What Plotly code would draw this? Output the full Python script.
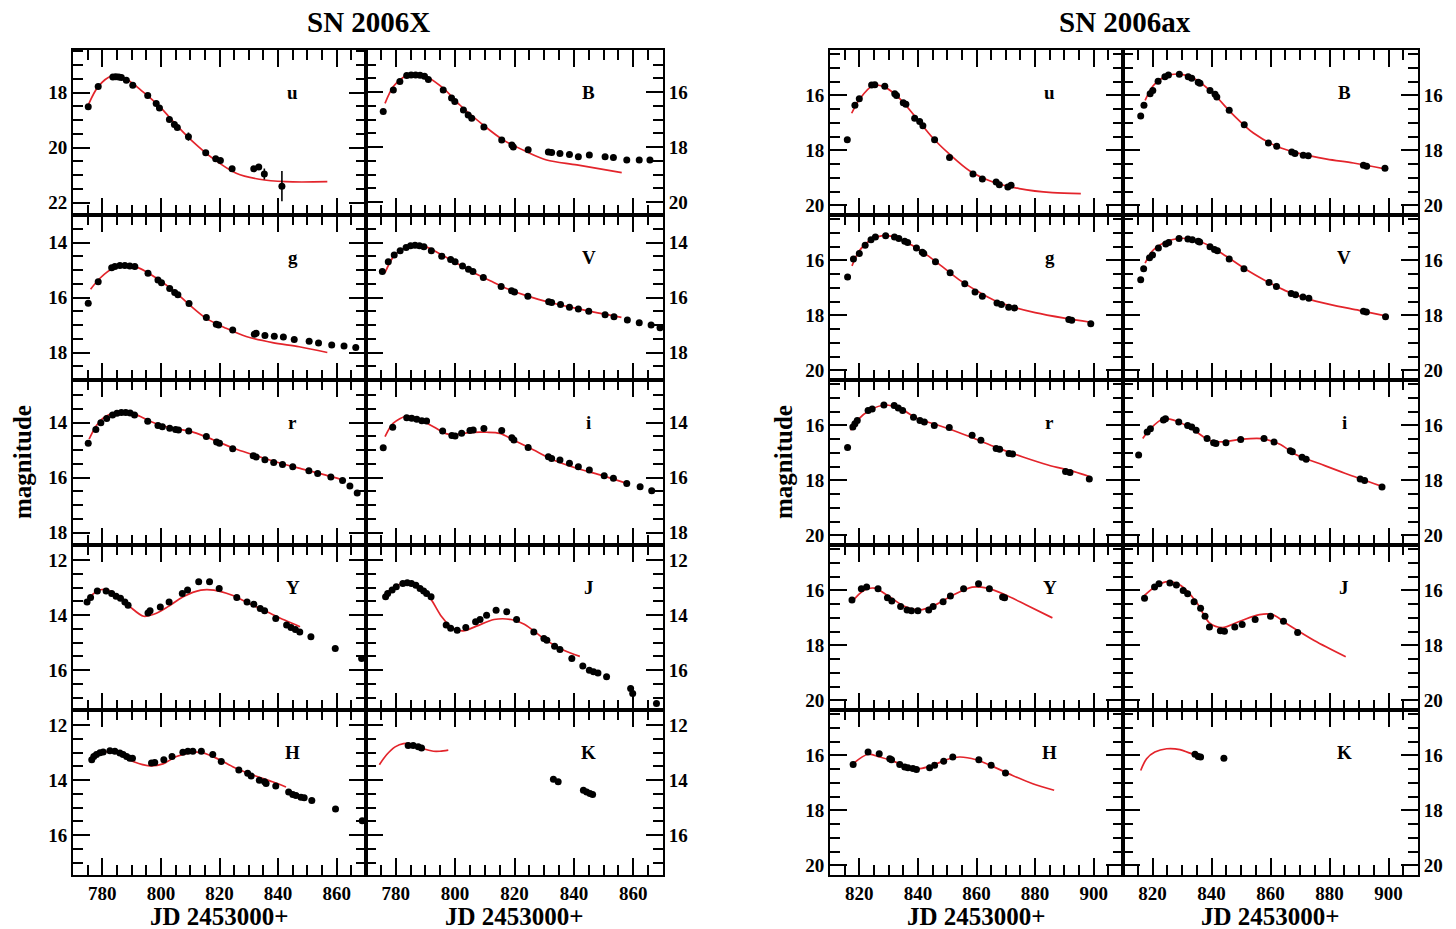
import plotly.graph_objects as go

# ------------------------------------------------------------------
# SN 2006X photometry (JD - 2453000) and template fits
# ------------------------------------------------------------------
X_u_t = [775.2, 778.6, 783.6, 784.6, 785.6, 786.5, 788.2, 790.4, 795.5, 798.4, 799.5, 802.9,
         804.6, 805.6, 809.4, 815.3, 818.7, 820.3, 824.3, 831.7, 833.4, 835.3, 841.3]
X_u_m = [18.51, 17.78, 17.43, 17.42, 17.43, 17.45, 17.55, 17.73, 18.10, 18.40, 18.56, 18.98,
         19.16, 19.27, 19.60, 20.19, 20.40, 20.47, 20.77, 20.77, 20.70, 20.96, 21.40]
X_u_e = [0.05, 0.04, 0.03, 0.03, 0.03, 0.03, 0.03, 0.04, 0.05, 0.05, 0.05, 0.06,
         0.06, 0.06, 0.15, 0.07, 0.08, 0.08, 0.10, 0.08, 0.08, 0.20, 0.55]
X_u_fit_t = [775.2, 778.6, 783.2, 788.3, 793.9, 799.6, 805.3, 810.9, 817.7, 825.7, 833.6, 842.7, 856.8]
X_u_fit_m = [18.45, 17.78, 17.40, 17.52, 17.97, 18.51, 19.18, 19.78, 20.39, 20.93, 21.15, 21.24, 21.24]

X_B_t = [775.8, 779.2, 781.4, 783.7, 785.2, 786.7, 788.2, 789.7, 791.0, 796.0, 798.8, 799.9,
         802.8, 804.4, 805.6, 809.7, 815.7, 819.1, 819.6, 824.6, 831.4, 832.5, 835.3, 838.5,
         841.5, 845.2, 850.5, 853.3, 857.8, 862.0, 865.6]
X_B_m = [16.71, 15.92, 15.62, 15.40, 15.38, 15.38, 15.39, 15.42, 15.54, 15.92, 16.22, 16.34,
         16.65, 16.83, 16.95, 17.27, 17.74, 17.92, 18.00, 18.10, 18.18, 18.20, 18.23, 18.27,
         18.35, 18.29, 18.35, 18.38, 18.47, 18.47, 18.47]
X_B_fit_t = [776.4, 779.2, 782.6, 785.9, 790.4, 796.0, 801.6, 809.5, 816.2, 824.1, 830.8, 841.0, 856.1]
X_B_fit_m = [16.41, 15.80, 15.46, 15.32, 15.44, 15.86, 16.47, 17.20, 17.74, 18.17, 18.47, 18.65, 18.93]

X_g_t = [775.2, 778.6, 783.2, 784.3, 786.0, 787.7, 789.4, 791.1, 795.6, 799.0, 800.2, 803.0,
         804.7, 805.8, 809.6, 815.5, 818.9, 819.7, 824.5, 831.9, 832.5, 835.5, 838.7, 841.8,
         845.5, 850.6, 853.8, 858.3, 862.5, 866.5]
X_g_m = [16.21, 15.43, 14.92, 14.87, 14.84, 14.84, 14.85, 14.87, 15.12, 15.36, 15.46, 15.67,
         15.82, 15.90, 16.22, 16.73, 16.97, 17.00, 17.18, 17.34, 17.30, 17.38, 17.41, 17.44,
         17.53, 17.59, 17.65, 17.73, 17.76, 17.82]
X_g_fit_t = [776.0, 779.2, 783.7, 788.3, 792.8, 798.5, 804.1, 809.8, 815.5, 822.3, 829.1, 838.1, 847.2, 856.8]
X_g_fit_m = [15.70, 15.30, 14.94, 14.82, 14.94, 15.30, 15.73, 16.27, 16.76, 17.12, 17.42, 17.64, 17.79, 18.00]

X_V_t = [775.5, 777.5, 779.5, 781.5, 783.5, 785.0, 786.5, 788.0, 789.5, 792.0, 795.5, 798.5,
         800.0, 802.5, 804.5, 806.0, 809.5, 815.5, 819.0, 820.0, 824.5, 831.5, 832.5, 835.5,
         838.5, 841.5, 845.0, 850.5, 853.5, 858.0, 862.0, 866.0, 869.0]
X_V_m = [15.05, 14.70, 14.45, 14.30, 14.18, 14.12, 14.10, 14.12, 14.15, 14.30, 14.50, 14.62,
         14.70, 14.85, 14.97, 15.05, 15.27, 15.60, 15.75, 15.80, 15.95, 16.15, 16.18, 16.25,
         16.35, 16.42, 16.50, 16.63, 16.70, 16.82, 16.92, 17.00, 17.10]
X_V_fit_t = [776.4, 779.0, 782.0, 786.0, 790.0, 795.0, 800.0, 806.0, 812.0, 818.0, 825.0, 832.0, 840.0, 848.0, 856.0]
X_V_fit_m = [15.10, 14.55, 14.25, 14.10, 14.15, 14.42, 14.72, 15.08, 15.40, 15.70, 15.97, 16.18, 16.38, 16.56, 16.72]

X_r_t = [775.2, 777.8, 779.5, 781.5, 783.5, 785.0, 786.5, 788.0, 789.5, 791.0, 795.5, 799.0,
         800.5, 803.0, 805.0, 806.0, 809.5, 815.5, 819.0, 820.0, 824.5, 831.5, 832.5, 835.5,
         838.5, 841.5, 845.0, 850.5, 853.5, 858.0, 862.0, 864.5, 867.0]
X_r_m = [14.75, 14.25, 14.00, 13.85, 13.72, 13.66, 13.63, 13.63, 13.65, 13.72, 13.95, 14.10,
         14.15, 14.20, 14.25, 14.27, 14.30, 14.50, 14.70, 14.75, 14.95, 15.20, 15.25, 15.35,
         15.45, 15.52, 15.60, 15.75, 15.85, 15.98, 16.10, 16.30, 16.56]
X_r_fit_t = [775.5, 778.0, 781.0, 785.0, 789.0, 793.0, 798.0, 804.0, 810.0, 815.0, 820.0, 826.0, 833.0, 840.0, 848.0, 856.0, 862.0]
X_r_fit_m = [14.60, 14.10, 13.78, 13.62, 13.60, 13.78, 14.02, 14.20, 14.32, 14.50, 14.72, 14.98, 15.22, 15.45, 15.68, 15.90, 16.08]

X_i_t = [775.8, 779.0, 783.7, 785.4, 787.1, 788.8, 790.4, 795.8, 798.9, 800.0, 802.2, 805.0,
         806.1, 809.7, 815.7, 819.1, 819.8, 824.6, 831.4, 832.5, 835.3, 838.5, 841.5, 845.2,
         850.2, 853.3, 857.8, 862.3, 866.2]
X_i_m = [14.91, 14.17, 13.82, 13.84, 13.88, 13.93, 13.94, 14.30, 14.47, 14.49, 14.39, 14.29,
         14.27, 14.21, 14.29, 14.55, 14.63, 14.90, 15.24, 15.30, 15.36, 15.48, 15.60, 15.72,
         15.93, 16.02, 16.21, 16.33, 16.48]
X_i_fit_t = [776.4, 779.2, 783.7, 787.1, 792.7, 797.2, 800.0, 803.9, 810.6, 815.1, 819.6, 826.3, 833.1, 840.9, 848.8, 857.8]
X_i_fit_m = [14.51, 14.02, 13.76, 13.84, 14.15, 14.41, 14.45, 14.37, 14.35, 14.39, 14.63, 14.99, 15.36, 15.66, 15.90, 16.21]

X_Y_t = [774.8, 776.0, 778.3, 781.3, 783.2, 784.7, 786.2, 787.7, 788.8, 795.6, 796.3, 799.8,
         802.8, 807.3, 809.1, 812.9, 816.6, 819.9, 825.9, 829.4, 831.7, 833.9, 835.4, 839.2,
         842.9, 844.4, 845.9, 847.4, 851.2, 859.5, 868.5]
X_Y_m = [13.52, 13.36, 13.12, 13.12, 13.21, 13.31, 13.39, 13.52, 13.64, 13.92, 13.84, 13.70,
         13.52, 13.21, 13.09, 12.79, 12.79, 13.03, 13.36, 13.52, 13.60, 13.76, 13.84, 14.12,
         14.36, 14.45, 14.52, 14.61, 14.79, 15.21, 15.58]
X_Y_fit_t = [774.8, 778.3, 781.3, 785.0, 789.5, 794.1, 797.8, 802.3, 807.6, 813.6, 818.1, 824.1, 830.2, 836.2, 842.2, 847.5]
X_Y_fit_m = [13.45, 13.12, 13.07, 13.27, 13.70, 14.04, 13.96, 13.70, 13.33, 13.09, 13.09, 13.27, 13.58, 13.88, 14.18, 14.42]

X_J_t = [776.6, 777.3, 778.8, 780.2, 782.4, 783.9, 785.3, 786.8, 788.2, 789.4, 790.4, 791.9,
         797.0, 798.5, 800.7, 803.6, 806.9, 808.4, 810.6, 813.8, 817.4, 820.7, 826.5, 829.9,
         830.9, 833.5, 835.3, 839.3, 843.0, 845.2, 846.6, 848.1, 851.0, 859.1, 859.8, 867.8]
X_J_m = [13.33, 13.21, 13.09, 12.97, 12.85, 12.82, 12.85, 12.91, 13.03, 13.12, 13.21, 13.33,
         14.36, 14.48, 14.55, 14.45, 14.24, 14.16, 14.00, 13.82, 13.88, 14.16, 14.61, 14.85,
         14.91, 15.13, 15.25, 15.58, 15.85, 16.00, 16.06, 16.10, 16.24, 16.67, 16.85, 17.21]
X_J_fit_t = [775.8, 779.5, 783.1, 786.8, 791.2, 795.5, 799.2, 802.8, 807.2, 813.1, 818.9, 823.3, 830.6, 836.4, 842.0]
X_J_fit_m = [13.33, 12.97, 12.85, 12.97, 13.33, 14.06, 14.48, 14.57, 14.40, 14.16, 14.16, 14.33, 14.91, 15.27, 15.50]

X_H_t = [776.4, 777.1, 778.0, 779.2, 780.3, 782.6, 784.3, 786.0, 787.1, 788.3, 789.4, 790.3,
         796.8, 797.9, 801.0, 803.8, 807.5, 809.2, 810.9, 813.8, 817.7, 820.6, 826.6, 829.6,
         830.8, 833.6, 835.4, 835.9, 839.2, 843.6, 845.0, 846.1, 847.8, 848.9, 851.5, 859.6, 868.7]
X_H_m = [13.26, 13.14, 13.07, 13.00, 12.98, 12.93, 12.95, 13.01, 13.07, 13.14, 13.20, 13.20,
         13.38, 13.36, 13.26, 13.14, 12.99, 12.95, 12.95, 12.95, 13.07, 13.32, 13.63, 13.75,
         13.85, 14.00, 14.06, 14.12, 14.21, 14.43, 14.52, 14.56, 14.62, 14.64, 14.74, 15.05, 15.48]
X_H_fit_t = [775.8, 779.2, 782.6, 786.0, 790.5, 796.2, 800.7, 805.3, 810.9, 814.3, 818.9, 824.5, 831.3, 838.1, 842.7]
X_H_fit_m = [13.32, 13.07, 12.95, 13.07, 13.32, 13.48, 13.41, 13.14, 12.99, 13.01, 13.20, 13.51, 13.81, 14.06, 14.25]

X_K_t = [784.2, 785.9, 787.6, 788.7, 833.1, 834.7, 843.2, 844.3, 845.4, 846.3]
X_K_m = [12.74, 12.74, 12.79, 12.83, 13.97, 14.06, 14.37, 14.43, 14.49, 14.52]
X_K_fit_t = [774.5, 777.0, 779.8, 782.6, 785.9, 789.3, 792.7, 794.9, 797.7]
X_K_fit_m = [13.44, 13.07, 12.79, 12.67, 12.70, 12.86, 12.95, 12.95, 12.91]

# ------------------------------------------------------------------
# SN 2006ax photometry (JD - 2453000) and template fits
# ------------------------------------------------------------------
A_u_t = [815.9, 818.5, 820.0, 824.2, 825.3, 828.7, 832.1, 832.7, 835.0, 835.9, 838.9, 840.6,
         841.7, 845.7, 850.8, 858.8, 862.0, 866.7, 867.8, 870.7, 871.8]
A_u_m = [17.61, 16.36, 16.12, 15.62, 15.61, 15.67, 15.94, 16.00, 16.27, 16.32, 16.83, 16.95,
         17.10, 17.61, 18.26, 18.86, 19.04, 19.15, 19.25, 19.33, 19.27]
A_u_fit_t = [817.4, 820.2, 824.7, 828.7, 833.8, 839.5, 845.1, 850.8, 857.6, 865.6, 874.6, 885.9, 895.6]
A_u_fit_m = [16.65, 16.12, 15.64, 15.70, 16.12, 16.83, 17.55, 18.14, 18.74, 19.15, 19.39, 19.54, 19.57]

A_B_t = [816.0, 817.1, 819.2, 820.1, 821.9, 824.2, 825.4, 829.1, 832.1, 833.3, 835.5, 836.1,
         839.5, 841.2, 841.8, 846.0, 851.1, 859.3, 862.1, 867.2, 868.3, 871.1, 872.8, 891.5,
         892.6, 898.8]
A_B_m = [16.75, 16.36, 15.94, 15.82, 15.49, 15.32, 15.26, 15.23, 15.32, 15.38, 15.52, 15.56,
         15.82, 15.96, 16.06, 16.54, 17.07, 17.73, 17.85, 18.06, 18.11, 18.18, 18.20, 18.54,
         18.58, 18.65]
A_B_fit_t = [817.5, 820.3, 824.8, 829.3, 835.0, 840.6, 847.4, 854.2, 862.1, 870.0, 879.1, 888.1, 899.2]
A_B_fit_m = [16.18, 15.64, 15.29, 15.23, 15.44, 15.94, 16.71, 17.37, 17.85, 18.12, 18.32, 18.46, 18.68]

A_g_t = [816.0, 818.0, 820.0, 822.0, 824.0, 825.5, 829.0, 832.0, 833.5, 835.5, 836.5, 839.5,
         841.5, 842.0, 846.0, 851.0, 856.0, 859.5, 862.0, 867.0, 868.5, 871.0, 873.0, 891.5,
         892.5, 899.0]
A_g_m = [16.60, 15.95, 15.75, 15.45, 15.25, 15.15, 15.10, 15.15, 15.20, 15.30, 15.35, 15.55,
         15.70, 15.75, 16.05, 16.45, 16.85, 17.15, 17.30, 17.55, 17.60, 17.70, 17.73, 18.15,
         18.18, 18.30]
A_g_fit_t = [817.5, 820.0, 824.0, 828.0, 833.0, 838.0, 843.0, 848.0, 854.0, 860.0, 866.0, 872.0, 880.0, 890.0, 899.0]
A_g_fit_m = [16.20, 15.65, 15.25, 15.10, 15.18, 15.45, 15.80, 16.20, 16.70, 17.10, 17.45, 17.68, 17.90, 18.10, 18.25]

A_V_t = [816.0, 817.0, 819.0, 820.0, 822.0, 824.5, 825.5, 829.0, 832.0, 833.5, 835.5, 836.0,
         839.5, 841.0, 842.0, 846.0, 851.0, 859.5, 862.0, 867.0, 868.5, 871.0, 873.0, 891.5,
         892.5, 899.0]
A_V_m = [16.70, 16.30, 15.90, 15.80, 15.55, 15.40, 15.35, 15.20, 15.22, 15.25, 15.30, 15.33,
         15.50, 15.60, 15.65, 15.95, 16.30, 16.80, 16.95, 17.20, 17.25, 17.33, 17.38, 17.85,
         17.88, 18.05]
A_V_fit_t = [817.5, 820.0, 824.0, 829.0, 834.0, 839.0, 845.0, 852.0, 858.0, 865.0, 872.0, 880.0, 890.0, 899.0]
A_V_fit_m = [16.10, 15.65, 15.35, 15.20, 15.25, 15.45, 15.85, 16.35, 16.72, 17.10, 17.38, 17.60, 17.82, 18.02]

A_r_t = [816.0, 817.8, 818.5, 819.3, 823.0, 824.4, 828.4, 831.9, 833.3, 834.8, 838.5, 840.7,
         842.2, 845.6, 850.7, 858.5, 861.5, 866.7, 867.9, 871.1, 872.3, 890.4, 891.9, 898.5]
A_r_m = [16.80, 16.06, 15.94, 15.82, 15.46, 15.40, 15.26, 15.28, 15.37, 15.46, 15.70, 15.82,
         15.88, 16.00, 16.08, 16.36, 16.54, 16.84, 16.87, 17.02, 17.04, 17.68, 17.71, 17.95]
A_r_fit_t = [817.0, 819.3, 823.7, 828.9, 834.1, 840.0, 845.9, 851.9, 859.3, 866.7, 875.6, 884.4, 893.3, 898.5]
A_r_fit_m = [16.18, 15.82, 15.44, 15.26, 15.40, 15.76, 15.96, 16.18, 16.48, 16.80, 17.14, 17.44, 17.68, 17.86]

A_i_t = [815.3, 818.2, 819.3, 823.7, 824.4, 828.9, 831.9, 833.3, 834.8, 838.5, 840.7, 841.5,
         844.9, 849.9, 857.8, 861.2, 866.7, 867.4, 870.7, 872.1, 890.4, 891.9, 897.8]
A_i_m = [17.08, 16.24, 16.12, 15.80, 15.76, 15.88, 16.00, 16.06, 16.18, 16.48, 16.63, 16.66,
         16.63, 16.51, 16.48, 16.60, 16.92, 16.96, 17.16, 17.23, 17.95, 18.00, 18.24]
A_i_fit_t = [816.7, 819.3, 823.7, 828.1, 833.3, 839.3, 843.7, 849.6, 857.0, 863.0, 868.9, 876.3, 885.2, 897.8]
A_i_fit_m = [16.48, 16.12, 15.76, 15.84, 16.12, 16.54, 16.60, 16.51, 16.48, 16.68, 17.08, 17.38, 17.74, 18.22]

A_Y_t = [817.5, 820.7, 822.5, 826.4, 829.6, 831.1, 834.1, 836.3, 837.8, 840.0, 843.7, 845.2,
         848.6, 851.1, 855.6, 860.7, 864.4, 868.9, 869.6]
A_Y_m = [16.35, 15.94, 15.88, 15.94, 16.27, 16.39, 16.59, 16.71, 16.74, 16.74, 16.71, 16.59,
         16.41, 16.20, 15.94, 15.76, 15.94, 16.24, 16.27]
A_Y_fit_t = [817.5, 821.5, 825.2, 829.6, 835.6, 840.7, 845.9, 851.9, 858.5, 863.7, 869.6, 877.0, 885.9]
A_Y_fit_m = [16.41, 16.00, 15.92, 16.18, 16.59, 16.71, 16.53, 16.18, 15.88, 15.92, 16.15, 16.53, 17.00]

A_J_t = [817.3, 820.7, 822.2, 825.9, 828.1, 830.4, 831.9, 834.1, 836.3, 837.8, 839.3, 843.0,
         844.4, 847.9, 850.4, 854.8, 860.0, 864.4, 869.2]
A_J_m = [16.29, 15.88, 15.76, 15.73, 15.80, 16.00, 16.12, 16.41, 16.65, 16.94, 17.33, 17.47,
         17.49, 17.33, 17.24, 17.06, 16.94, 17.12, 17.53]
A_J_fit_t = [817.3, 821.5, 825.2, 829.6, 834.8, 839.3, 843.7, 849.6, 856.3, 860.7, 865.9, 874.8, 885.5]
A_J_fit_m = [16.18, 15.82, 15.68, 15.82, 16.41, 17.18, 17.35, 17.12, 16.88, 16.88, 17.24, 17.82, 18.41]

A_H_t = [817.9, 823.0, 826.8, 830.4, 831.0, 833.8, 835.5, 836.6, 838.3, 839.5, 844.0, 845.7,
         848.8, 851.9, 860.8, 865.0, 869.9]
A_H_m = [16.33, 15.88, 15.94, 16.12, 16.16, 16.33, 16.42, 16.45, 16.48, 16.51, 16.45, 16.36,
         16.21, 16.06, 16.16, 16.36, 16.64]
A_H_fit_t = [817.9, 823.0, 827.0, 831.5, 836.1, 840.6, 845.1, 849.7, 854.2, 859.9, 865.5, 872.3, 879.2, 886.5]
A_H_fit_m = [16.30, 15.96, 16.06, 16.21, 16.40, 16.48, 16.36, 16.16, 16.06, 16.16, 16.40, 16.73, 17.03, 17.27]

A_K_t = [834.4, 835.5, 836.3, 844.2]
A_K_m = [15.96, 16.04, 16.06, 16.10]
A_K_fit_t = [816.0, 818.0, 820.8, 824.8, 829.3, 832.7, 835.5]
A_K_fit_m = [16.55, 16.12, 15.88, 15.76, 15.79, 15.92, 16.00]

# Vertical (magnitude) window of every panel, [faint, bright]
X_YLIM = {"u": [22.45, 16.45], "B": [20.47, 14.47], "g": [19.0, 13.0], "V": [19.0, 13.0],
          "r": [18.45, 12.45], "i": [18.45, 12.45], "Y": [17.45, 11.45], "J": [17.45, 11.45],
          "H": [17.45, 11.45], "K": [17.45, 11.45]}
A_YLIM = [20.35, 14.35]
X_XLIM = [770, 870]
A_XLIM = [810, 910]

# ------------------------------------------------------------------
# Layout geometry (pixels in a 1456 x 929 page)
# ------------------------------------------------------------------
W, H = 1456, 929
COLS = [(73, 366), (366, 663), (830, 1123), (1123, 1418)]
ROW_TOP, ROW_H = 50, 165
BAND_LAYOUT = [("u", "B"), ("g", "V"), ("r", "i"), ("Y", "J"), ("H", "K")]

SERIF = "Liberation Serif"
FIT_COLOR = "#e3242b"

X_DATA = {
    "u": (X_u_t, X_u_m, X_u_fit_t, X_u_fit_m), "B": (X_B_t, X_B_m, X_B_fit_t, X_B_fit_m),
    "g": (X_g_t, X_g_m, X_g_fit_t, X_g_fit_m), "V": (X_V_t, X_V_m, X_V_fit_t, X_V_fit_m),
    "r": (X_r_t, X_r_m, X_r_fit_t, X_r_fit_m), "i": (X_i_t, X_i_m, X_i_fit_t, X_i_fit_m),
    "Y": (X_Y_t, X_Y_m, X_Y_fit_t, X_Y_fit_m), "J": (X_J_t, X_J_m, X_J_fit_t, X_J_fit_m),
    "H": (X_H_t, X_H_m, X_H_fit_t, X_H_fit_m), "K": (X_K_t, X_K_m, X_K_fit_t, X_K_fit_m),
}
A_DATA = {
    "u": (A_u_t, A_u_m, A_u_fit_t, A_u_fit_m), "B": (A_B_t, A_B_m, A_B_fit_t, A_B_fit_m),
    "g": (A_g_t, A_g_m, A_g_fit_t, A_g_fit_m), "V": (A_V_t, A_V_m, A_V_fit_t, A_V_fit_m),
    "r": (A_r_t, A_r_m, A_r_fit_t, A_r_fit_m), "i": (A_i_t, A_i_m, A_i_fit_t, A_i_fit_m),
    "Y": (A_Y_t, A_Y_m, A_Y_fit_t, A_Y_fit_m), "J": (A_J_t, A_J_m, A_J_fit_t, A_J_fit_m),
    "H": (A_H_t, A_H_m, A_H_fit_t, A_H_fit_m), "K": (A_K_t, A_K_m, A_K_fit_t, A_K_fit_m),
}

fig = go.Figure()
layout = {}
annotations = []
tickfont = dict(family=SERIF, size=19, color="black", weight="bold")

k = 0
for block, (data, xlim, x0tick) in enumerate([(X_DATA, X_XLIM, 780), (A_DATA, A_XLIM, 820)]):
    for row, bands in enumerate(BAND_LAYOUT):
        for col, band in enumerate(bands):
            k += 1
            xa = "x" if k == 1 else f"x{k}"
            ya = "y" if k == 1 else f"y{k}"
            px0, px1 = COLS[block * 2 + col]
            top = ROW_TOP + row * ROW_H
            bot = top + ROW_H
            ylim = X_YLIM[band] if block == 0 else A_YLIM

            layout["xaxis" if k == 1 else f"xaxis{k}"] = dict(
                domain=[px0 / W, px1 / W], anchor=ya, range=xlim,
                tick0=x0tick, dtick=20, ticks="inside", ticklen=17, tickwidth=2,
                tickcolor="black", mirror="allticks", showline=True, linewidth=2,
                linecolor="black", showgrid=False, zeroline=False,
                showticklabels=(row == len(BAND_LAYOUT) - 1), tickfont=tickfont,
                minor=dict(dtick=5, tick0=x0tick, ticks="inside", ticklen=10,
                           tickwidth=2, tickcolor="black", showgrid=False),
            )
            layout["yaxis" if k == 1 else f"yaxis{k}"] = dict(
                domain=[1 - bot / H, 1 - top / H], anchor=xa, range=ylim,
                side="left" if col == 0 else "right",
                tick0=0, dtick=2, ticks="inside", ticklen=17, tickwidth=2,
                tickcolor="black", mirror="allticks", showline=True, linewidth=2,
                linecolor="black", showgrid=False, zeroline=False, tickfont=tickfont,
                minor=dict(dtick=0.5, tick0=0, ticks="inside", ticklen=10,
                           tickwidth=2, tickcolor="black", showgrid=False),
            )

            t, m, ft, fm = data[band]
            fig.add_trace(go.Scatter(
                x=ft, y=fm, mode="lines", xaxis=xa, yaxis=ya,
                line=dict(color=FIT_COLOR, width=1.7, shape="spline", smoothing=0.9),
                hoverinfo="skip", showlegend=False,
            ))
            err = None
            if block == 0 and band == "u":
                err = dict(type="data", array=X_u_e, visible=True, color="black",
                           thickness=1.6, width=0)
            fig.add_trace(go.Scatter(
                x=t, y=m, mode="markers", xaxis=xa, yaxis=ya,
                marker=dict(color="black", size=7, symbol="circle"),
                error_y=err, showlegend=False,
            ))

            annotations.append(dict(
                x=(px0 + 0.75 * (px1 - px0)) / W, y=1 - (top + 42) / H,
                xref="paper", yref="paper", text=f"<b>{band}</b>", showarrow=False,
                font=dict(family=SERIF, size=19, color="black"),
                xanchor="center", yanchor="middle",
            ))

# Titles of the two light-curve sets
for text, cx in [("SN 2006X", 368), ("SN 2006ax", 1125)]:
    annotations.append(dict(x=cx / W, y=1 - 22 / H, xref="paper", yref="paper",
                            text=f"<b>{text}</b>", showarrow=False,
                            font=dict(family=SERIF, size=29, color="black"),
                            xanchor="center", yanchor="middle"))
# Shared magnitude labels
for cx in [22, 783]:
    annotations.append(dict(x=cx / W, y=1 - 462 / H, xref="paper", yref="paper",
                            text="<b>magnitude</b>", showarrow=False, textangle=-90,
                            font=dict(family=SERIF, size=25, color="black"),
                            xanchor="center", yanchor="middle"))
# Time axis labels under each column
for px0, px1 in COLS:
    annotations.append(dict(x=(px0 + px1) / 2 / W, y=1 - 916 / H, xref="paper", yref="paper",
                            text="<b>JD 2453000+</b>", showarrow=False,
                            font=dict(family=SERIF, size=25, color="black"),
                            xanchor="center", yanchor="middle"))

fig.update_layout(
    **layout,
    annotations=annotations,
    width=W, height=H, autosize=False,
    margin=dict(l=0, r=0, t=0, b=0),
    paper_bgcolor="white", plot_bgcolor="white",
    showlegend=False,
)

fig.write_html("out.html")
